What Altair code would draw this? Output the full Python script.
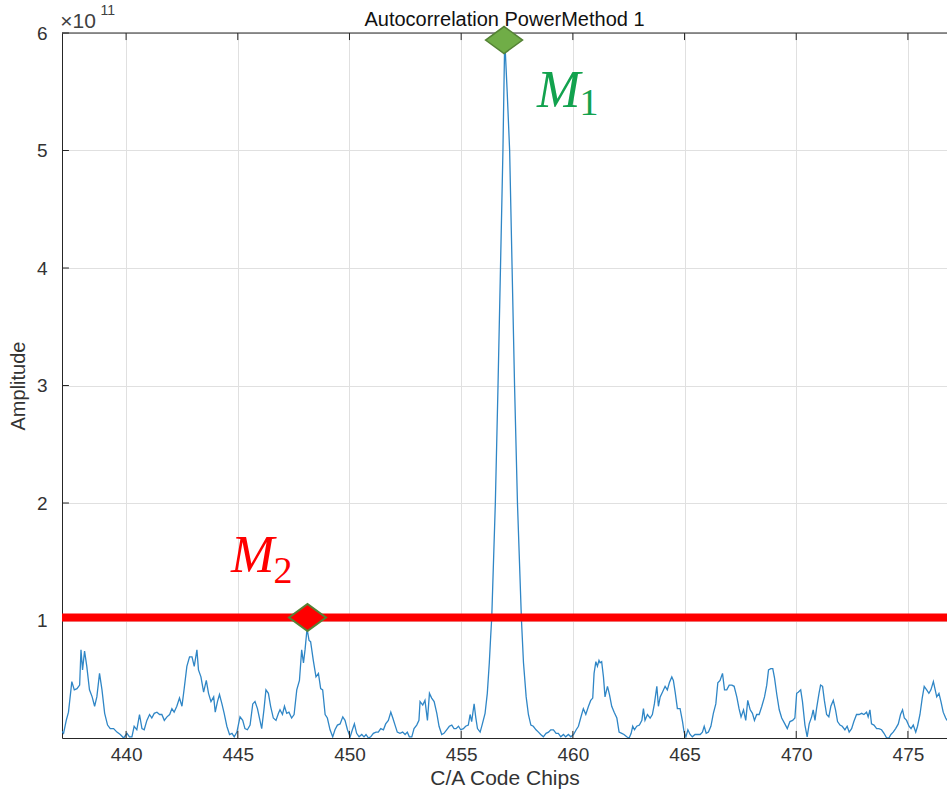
import altair as alt
import pandas as pd

# Sample positions (C/A code chips) and autocorrelation amplitude (x 1e11)
chips = [
    437.05, 437.20, 437.32, 437.42, 437.57, 437.68, 437.80, 437.92, 437.98, 438.05,
    438.14, 438.24, 438.36, 438.48, 438.59, 438.69, 438.81, 438.92, 439.04, 439.17,
    439.29, 439.44, 439.59, 439.74, 439.89, 440.04, 440.15, 440.26, 440.36, 440.48,
    440.60, 440.71, 440.81, 440.93, 441.05, 441.15, 441.26, 441.38, 441.50, 441.60,
    441.71, 441.83, 441.95, 442.05, 442.15, 442.27, 442.39, 442.50, 442.60, 442.72,
    442.84, 442.95, 443.05, 443.17, 443.24, 443.35, 443.47, 443.59, 443.69, 443.80,
    443.92, 443.99, 444.09, 444.18, 444.29, 444.39, 444.51, 444.63, 444.74, 444.84,
    444.96, 445.10, 445.22, 445.32, 445.43, 445.55, 445.67, 445.77, 445.88, 445.97,
    446.07, 446.17, 446.26, 446.37, 446.47, 446.59, 446.71, 446.82, 446.89, 447.00,
    447.09, 447.19, 447.29, 447.41, 447.52, 447.64, 447.76, 447.86, 447.94, 448.01,
    448.10, 448.19, 448.26, 448.38, 448.50, 448.61, 448.71, 448.80, 448.91, 449.01,
    449.13, 449.25, 449.35, 449.46, 449.58, 449.70, 449.80, 449.91, 450.03, 450.13,
    450.22, 450.32, 450.43, 450.55, 450.65, 450.74, 450.85, 450.95, 451.07, 451.19,
    451.29, 451.40, 451.52, 451.62, 451.74, 451.85, 451.94, 452.04, 452.14, 452.26,
    452.38, 452.49, 452.59, 452.68, 452.79, 452.89, 453.01, 453.11, 453.16, 453.28,
    453.38, 453.49, 453.58, 453.68, 453.79, 453.91, 454.01, 454.13, 454.23, 454.35,
    454.47, 454.58, 454.68, 454.77, 454.88, 454.98, 455.10, 455.20, 455.32, 455.40,
    455.47, 455.58, 455.65, 455.73, 455.85, 455.95, 456.07, 456.17, 456.26, 456.32,
    456.37, 456.53, 456.65, 456.76, 456.87, 456.95, 457.06, 457.17, 457.28, 457.39,
    457.52, 457.70, 457.79, 457.91, 458.01, 458.12, 458.23, 458.35, 458.46, 458.56,
    458.68, 458.80, 458.91, 459.01, 459.13, 459.25, 459.35, 459.46, 459.58, 459.68,
    459.80, 459.91, 460.03, 460.15, 460.25, 460.35, 460.47, 460.58, 460.70, 460.80,
    460.89, 460.95, 461.03, 461.10, 461.17, 461.22, 461.29, 461.37, 461.44, 461.55,
    461.64, 461.74, 461.85, 461.97, 462.07, 462.19, 462.29, 462.41, 462.52, 462.61,
    462.68, 462.76, 462.86, 462.98, 463.09, 463.16, 463.23, 463.34, 463.46, 463.56,
    463.65, 463.76, 463.83, 463.91, 464.01, 464.13, 464.23, 464.32, 464.43, 464.50,
    464.58, 464.68, 464.80, 464.91, 464.98, 465.06, 465.15, 465.25, 465.35, 465.47,
    465.58, 465.70, 465.80, 465.88, 465.97, 466.07, 466.18, 466.29, 466.40, 466.49,
    466.59, 466.70, 466.79, 466.89, 467.00, 467.12, 467.22, 467.34, 467.44, 467.53,
    467.64, 467.74, 467.83, 467.94, 468.04, 468.13, 468.23, 468.34, 468.46, 468.58,
    468.68, 468.76, 468.86, 468.95, 469.03, 469.13, 469.24, 469.35, 469.49, 469.60,
    469.72, 469.84, 469.94, 470.02, 470.09, 470.20, 470.28, 470.39, 470.49, 470.58,
    470.69, 470.76, 470.84, 470.91, 471.02, 471.09, 471.18, 471.26, 471.36, 471.46,
    471.55, 471.66, 471.76, 471.85, 471.96, 472.06, 472.18, 472.28, 472.37, 472.48,
    472.58, 472.70, 472.81, 472.93, 473.03, 473.15, 473.22, 473.30, 473.37, 473.48,
    473.60, 473.70, 473.82, 473.93, 474.05, 474.15, 474.24, 474.34, 474.45, 474.57,
    474.67, 474.76, 474.84, 474.94, 475.05, 475.14, 475.24, 475.35, 475.43, 475.54,
    475.64, 475.73, 475.84, 475.94, 476.03, 476.14, 476.21, 476.29, 476.39, 476.48,
    476.58, 476.69, 476.75,
]
amplitude = [
    0.07, 0.04, 0.15, 0.22, 0.48, 0.41, 0.42, 0.45, 0.75, 0.58,
    0.74, 0.61, 0.41, 0.35, 0.27, 0.35, 0.55, 0.41, 0.21, 0.11,
    0.08, 0.08, 0.05, 0.03, 0.00, 0.04, 0.01, 0.01, 0.10, 0.07,
    0.20, 0.08, 0.07, 0.15, 0.20, 0.17, 0.21, 0.22, 0.20, 0.20,
    0.15, 0.18, 0.20, 0.25, 0.22, 0.27, 0.34, 0.27, 0.42, 0.61,
    0.69, 0.69, 0.61, 0.75, 0.58, 0.52, 0.39, 0.49, 0.38, 0.31,
    0.35, 0.22, 0.31, 0.37, 0.29, 0.21, 0.10, 0.03, 0.04, 0.01,
    0.05, 0.18, 0.15, 0.08, 0.07, 0.11, 0.29, 0.31, 0.25, 0.17,
    0.08, 0.24, 0.41, 0.38, 0.27, 0.17, 0.15, 0.21, 0.24, 0.20,
    0.27, 0.21, 0.22, 0.17, 0.20, 0.41, 0.49, 0.75, 0.64, 0.75,
    0.93, 0.83, 0.82, 0.66, 0.52, 0.55, 0.42, 0.41, 0.20, 0.17,
    0.07, 0.01, 0.07, 0.11, 0.12, 0.18, 0.15, 0.07, 0.01, 0.07,
    0.12, 0.04, 0.01, 0.03, 0.01, 0.03, 0.00, 0.01, 0.04, 0.05,
    0.05, 0.08, 0.07, 0.12, 0.15, 0.22, 0.17, 0.11, 0.05, 0.04,
    0.05, 0.03, 0.05, 0.01, 0.01, 0.08, 0.11, 0.15, 0.31, 0.28,
    0.32, 0.15, 0.38, 0.34, 0.31, 0.21, 0.10, 0.03, 0.04, 0.07,
    0.10, 0.11, 0.08, 0.08, 0.10, 0.07, 0.08, 0.10, 0.11, 0.20,
    0.14, 0.29, 0.18, 0.08, 0.05, 0.12, 0.21, 0.38, 0.64, 0.86,
    1.03, 2.00, 3.00, 4.00, 5.00, 5.95, 5.50, 5.00, 4.00, 3.00,
    2.00, 1.00, 0.64, 0.35, 0.20, 0.11, 0.10, 0.07, 0.05, 0.03,
    0.01, 0.04, 0.05, 0.07, 0.07, 0.04, 0.04, 0.01, 0.03, 0.01,
    0.03, 0.01, 0.03, 0.07, 0.10, 0.17, 0.25, 0.20, 0.27, 0.32,
    0.34, 0.55, 0.65, 0.61, 0.66, 0.64, 0.65, 0.52, 0.35, 0.44,
    0.37, 0.27, 0.22, 0.17, 0.05, 0.04, 0.03, 0.01, 0.00, 0.04,
    0.10, 0.07, 0.10, 0.11, 0.15, 0.25, 0.15, 0.20, 0.17, 0.20,
    0.29, 0.44, 0.27, 0.35, 0.39, 0.44, 0.41, 0.47, 0.52, 0.49,
    0.39, 0.25, 0.25, 0.14, 0.05, 0.01, 0.07, 0.03, 0.01, 0.03,
    0.03, 0.03, 0.05, 0.10, 0.04, 0.05, 0.10, 0.21, 0.29, 0.47,
    0.49, 0.55, 0.41, 0.41, 0.45, 0.45, 0.44, 0.35, 0.25, 0.18,
    0.24, 0.15, 0.32, 0.24, 0.21, 0.15, 0.20, 0.20, 0.27, 0.35,
    0.45, 0.58, 0.59, 0.59, 0.51, 0.37, 0.24, 0.17, 0.12, 0.08,
    0.14, 0.15, 0.17, 0.38, 0.39, 0.41, 0.31, 0.11, 0.01, 0.12,
    0.18, 0.24, 0.15, 0.25, 0.38, 0.45, 0.44, 0.32, 0.20, 0.18,
    0.27, 0.32, 0.24, 0.14, 0.11, 0.10, 0.07, 0.10, 0.05, 0.08,
    0.14, 0.20, 0.20, 0.21, 0.20, 0.22, 0.18, 0.24, 0.12, 0.11,
    0.08, 0.08, 0.07, 0.04, 0.00, 0.00, 0.03, 0.05, 0.08, 0.12,
    0.20, 0.24, 0.17, 0.15, 0.10, 0.08, 0.11, 0.05, 0.10, 0.20,
    0.34, 0.44, 0.41, 0.38, 0.41, 0.48, 0.42, 0.35, 0.38, 0.31,
    0.22, 0.17, 0.15,
]

x_ticks = [440, 445, 450, 455, 460, 465, 470, 475]
y_ticks = [1, 2, 3, 4, 5, 6]
x_domain = [437.13, 476.75]
y_domain = [0, 6]

# Detection threshold and the two marked peaks
threshold = 1.025
m1_chip, m1_amp = 456.92, 5.94
m2_chip, m2_amp = 448.12, 1.025

plot_title = "Autocorrelation PowerMethod 1"

FONT = "Liberation Sans"
AXIS_GRAY = "#262626"
LABEL_GRAY = "#333333"
GREEN = "#12a24e"
RED = "#ff0000"

# Inward tick lengths, in data units of each axis (about 7 px)
X_TICK_LEN = 0.06
Y_TICK_LEN = 0.31

df = pd.DataFrame({"chip": chips, "amp": amplitude})

x_scale = alt.Scale(domain=x_domain, nice=False, zero=False)
y_scale = alt.Scale(domain=y_domain, nice=False, zero=False)

x_bottom = alt.X(
    "chip:Q", scale=x_scale,
    axis=alt.Axis(values=x_ticks, format="d", title="C/A Code Chips", grid=True,
                  ticks=False, labelFontSize=19, labelPadding=7, labelColor=LABEL_GRAY,
                  labelFont=FONT, titleFont=FONT, titleFontSize=21,
                  titleFontWeight="normal", titleColor=LABEL_GRAY, titlePadding=3,
                  domainColor=AXIS_GRAY, gridColor="#e0e0e0"),
)
y_left = alt.Y(
    "amp:Q", scale=y_scale,
    axis=alt.Axis(values=y_ticks, format="d", title="Amplitude", grid=True,
                  ticks=False, labelFontSize=19, labelPadding=15, labelColor=LABEL_GRAY,
                  labelFont=FONT, titleFont=FONT, titleFontSize=20,
                  titleFontWeight="normal", titleColor=LABEL_GRAY, titlePadding=8,
                  domainColor=AXIS_GRAY, gridColor="#e0e0e0"),
)


def xy():
    return dict(x=alt.X("chip:Q", scale=x_scale), y=alt.Y("amp:Q", scale=y_scale))


curve = alt.Chart(df).mark_line(color="#2f86c6", strokeWidth=1.3, clip=True).encode(
    x=x_bottom, y=y_left
)

# Upper frame edge of the axes box
top_edge = alt.Chart(pd.DataFrame({"amp": [y_domain[1]]})).mark_rule(
    color=AXIS_GRAY, strokeWidth=1
).encode(y=alt.Y("amp:Q", scale=y_scale))

# Inward-pointing ticks on the bottom, top and left edges
xt = pd.DataFrame({
    "chip": x_ticks * 2,
    "a0": [y_domain[0]] * len(x_ticks) + [y_domain[1]] * len(x_ticks),
    "a1": [y_domain[0] + X_TICK_LEN] * len(x_ticks) + [y_domain[1] - X_TICK_LEN] * len(x_ticks),
})
x_tick_marks = alt.Chart(xt).mark_rule(color=AXIS_GRAY, strokeWidth=1).encode(
    x=alt.X("chip:Q", scale=x_scale),
    y=alt.Y("a0:Q", scale=y_scale), y2="a1:Q",
)
yt = pd.DataFrame({
    "amp": y_ticks,
    "c0": [x_domain[0]] * len(y_ticks),
    "c1": [x_domain[0] + Y_TICK_LEN] * len(y_ticks),
})
y_tick_marks = alt.Chart(yt).mark_rule(color=AXIS_GRAY, strokeWidth=1).encode(
    y=alt.Y("amp:Q", scale=y_scale),
    x=alt.X("c0:Q", scale=x_scale), x2="c1:Q",
)

thresh_rule = alt.Chart(pd.DataFrame({"amp": [threshold]})).mark_rule(
    color=RED, strokeWidth=8
).encode(y=alt.Y("amp:Q", scale=y_scale))

diamond = "M -1 0 L 0 -0.73 L 1 0 L 0 0.73 Z"

m1_marker = alt.Chart(pd.DataFrame({"chip": [m1_chip], "amp": [m1_amp]})).mark_point(
    shape=diamond, size=1369, filled=True, fill="#70ad47", stroke="#548235",
    strokeWidth=1.5, opacity=1
).encode(**xy())

m2_marker = alt.Chart(pd.DataFrame({"chip": [m2_chip], "amp": [m2_amp]})).mark_point(
    shape=diamond, size=1369, filled=True, fill=RED, stroke="#548235",
    strokeWidth=2, opacity=1
).encode(**xy())


def label(text, chip, amp, size, color, italic=False, font="Liberation Serif",
          align="left", dy=0):
    return alt.Chart(pd.DataFrame({"chip": [chip], "amp": [amp], "t": [text]})).mark_text(
        font=font, fontSize=size, fontStyle="italic" if italic else "normal",
        color=color, align=align, baseline="alphabetic", dy=dy
    ).encode(text="t:N", **xy())


m1_text = label("M", 458.40, 5.37, 52, GREEN, italic=True)
m1_sub = label("1", 460.30, 5.30, 38, GREEN)
m2_text = label("M", 444.70, 1.41, 52, RED, italic=True)
m2_sub = label("2", 446.60, 1.32, 38, RED)

exp_base = label("\u00d710", 437.05, 6.04, 21, "#404040", font=FONT)
exp_pow = label("11", 438.85, 6.15, 14, "#404040", font=FONT)

title_text = label(plot_title, sum(x_domain) / 2, y_domain[1], 20, "#111111",
                   font=FONT, align="center", dy=-7)

chart = alt.layer(
    curve, top_edge, x_tick_marks, y_tick_marks, thresh_rule, m1_marker, m2_marker,
    m1_text, m1_sub, m2_text, m2_sub, exp_base, exp_pow, title_text,
).properties(
    width=885,
    height=705,
    autosize=alt.AutoSizeParams(type="none"),
    padding={"left": 62, "top": 33, "right": 0, "bottom": 55},
).configure_view(stroke=None).configure(background="white")

chart.save("out.html", embed_options={"renderer": "svg", "actions": False})
